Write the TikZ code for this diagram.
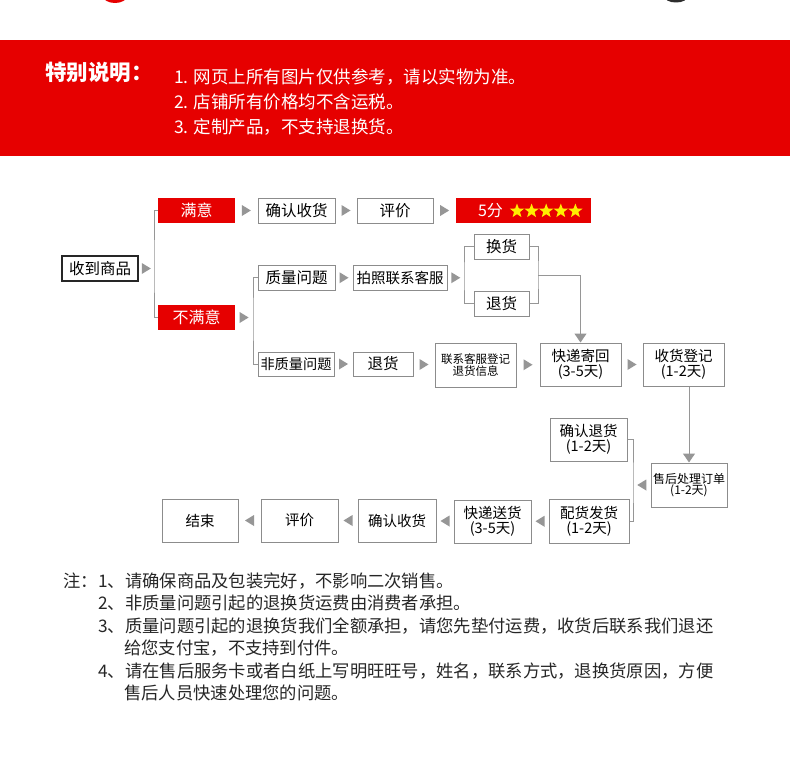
\documentclass[tikz,border=0pt]{standalone}
\usepackage{fontspec}
\setmainfont{Noto Sans CJK SC}
\usetikzlibrary{calc,arrows.meta,shapes.geometric}
\definecolor{bandred}{RGB}{230,0,0}
\definecolor{boxgray}{RGB}{140,140,140}
\definecolor{arrowgray}{RGB}{150,150,150}
\definecolor{lingray}{RGB}{150,150,150}
\definecolor{staryellow}{RGB}{255,238,0}
\definecolor{darkbit}{RGB}{45,45,45}
\newcommand\fs[1]{\fontsize{#1pt}{#1pt}\selectfont}
\newcommand\tright[2]{\path ($(#1)!0.5!(#2)$) coordinate (tc);
  \fill[arrowgray] ($(tc)+(-4.5,-5.5)$) -- ($(tc)+(4.5,0)$) -- ($(tc)+(-4.5,5.5)$) -- cycle;}
\newcommand\tleft[2]{\path ($(#1)!0.5!(#2)$) coordinate (tc);
  \fill[arrowgray] ($(tc)+(4.5,-5.5)$) -- ($(tc)+(-4.5,0)$) -- ($(tc)+(4.5,5.5)$) -- cycle;}
\begin{document}
\begin{tikzpicture}[x=1pt,y=-1pt,
  box/.style={draw=boxgray, line width=1pt, fill=white, inner sep=0pt, align=center, font=\fs{15.5}, minimum height=25pt},
  tallbox/.style={box, minimum height=43pt, font=\fontsize{14.5pt}{15pt}\selectfont},
  smallbox/.style={box, minimum height=44pt, font=\fontsize{11.5pt}{11.5pt}\selectfont},
  redbox/.style={fill=bandred, inner sep=0pt, text=white, font=\fs{16}, minimum height=25pt},
  conn/.style={draw=lingray, line width=1pt},
  downarr/.style={conn, -{Triangle[width=12pt,length=9pt]}},
  headtxt/.style={anchor=west, text=white, inner sep=0pt, font=\fs{17.5}},
  notetxt/.style={anchor=west, inner sep=0pt, font=\fs{17.3}, text=black!85},
  staricon/.style={star, star points=5, star point ratio=2.4, fill=staryellow, inner sep=0pt, minimum size=15pt}
]
\useasboundingbox (0,0) rectangle (790,760);
\fill[white] (0,0) rectangle (790,760);
\begin{scope}
\clip (0,0) rectangle (790,760);
\fill[bandred] (115,-4) ellipse [x radius=12, y radius=7];
\fill[darkbit] (676,-4) ellipse [x radius=12, y radius=6.5];
\end{scope}
% header band
\fill[bandred] (0,40) rectangle (790,156);
\node[anchor=west, text=white, inner sep=0pt, font=\fs{21.5}\bfseries] (title) at (45,72) {特别说明：};
\node[headtxt] (h1) at (174,77) {1. 网页上所有图片仅供参考，请以实物为准。};
\node[headtxt] (h2) at (174,102) {2. 店铺所有价格均不含运税。};
\node[headtxt] (h3) at (174,127) {3. 定制产品，不支持退换货。};

% flow nodes
\node[box, draw=black!85, line width=1.2pt, minimum width=76pt] (recv) at (100,268.5) {收到商品};
\node[redbox, minimum width=77pt] (sat) at (196.5,210.5) {满意};
\node[box, minimum width=77pt] (conf1) at (296.5,210.5) {确认收货};
\node[box, minimum width=76pt] (eval1) at (395,210.5) {评价};
\node[redbox, minimum width=135pt] (score) at (523.5,210.5) {};
\node[text=white, inner sep=0pt, font=\fs{16}] (five) at (490.5,211) {5分};
\foreach \i in {0,...,4} \node[staricon] (st\i) at (517+14.6*\i,211) {};
\node[redbox, minimum width=77pt] (unsat) at (196.5,317.5) {不满意};
\node[box, minimum width=77pt] (qual) at (296.5,277.5) {质量问题};
\node[box, minimum width=94pt, font=\fs{14.5}] (photo) at (400,278) {拍照联系客服};
\node[box, minimum width=55pt] (exch) at (501.5,246.5) {换货};
\node[box, minimum width=55pt] (ret1) at (501.5,303.5) {退货};
\node[box, minimum width=76pt, minimum height=24pt, font=\fs{14.2}] (nonq) at (296,364) {非质量问题};
\node[box, minimum width=60pt, minimum height=24pt] (ret2) at (383,364) {退货};
\node[smallbox, minimum width=81pt] (contact) at (475.5,365) {联系客服登记\\退货信息};
\node[tallbox, minimum width=81pt] (shipback) at (580.5,364.5) {快递寄回\\(3-5天)};
\node[tallbox, minimum width=81pt] (recvreg) at (683.5,364.5) {收货登记\\(1-2天)};
\node[smallbox, minimum width=76pt, font=\fontsize{12pt}{11.5pt}\selectfont] (after) at (689,485) {售后处理订单\\(1-2天)};
\node[tallbox, minimum width=77pt] (confret) at (588.5,439.5) {确认退货\\(1-2天)};
\node[tallbox, minimum width=80pt, minimum height=44pt] (dist) at (589,521) {配货发货\\(1-2天)};
\node[tallbox, minimum width=77pt] (sendd) at (492.5,521.5) {快递送货\\(3-5天)};
\node[box, minimum width=78pt, minimum height=43pt, font=\fs{14.5}] (conf2) at (397,520.5) {确认收货};
\node[box, minimum width=77pt, minimum height=43pt, font=\fs{14.5}] (eval2) at (299.5,520.5) {评价};
\node[box, minimum width=76pt, minimum height=43pt, font=\fs{14.5}] (fin) at (200,520.5) {结束};

% bracket joints
\coordinate (b1) at (154,268.5);
\coordinate (b2) at (253,317.5);
\coordinate (b3) at (464,277.5);
\coordinate (b4) at (538,275);
\coordinate (b5) at (633,485);

\draw[conn] (sat.west) -| (b1) |- (unsat.west);
\draw[conn] (qual.west) -| (b2) |- (nonq.west);
\draw[conn] (exch.west) -| (b3) |- (ret1.west);
\draw[conn] (exch.east) -| (b4) |- (ret1.east);
\draw[downarr] (b4) -| (shipback.north);
\draw[downarr] (after.north |- recvreg.south) -- (after.north);
\draw[conn] (confret.east) -| (b5) |- (dist.east);

% triangle arrows
\tright{recv.east}{b1}
\tright{sat.east}{conf1.west}
\tright{conf1.east}{eval1.west}
\tright{eval1.east}{score.west}
\tright{unsat.east}{b2}
\tright{qual.east}{photo.west}
\tright{photo.east}{b3}
\tright{nonq.east}{ret2.west}
\tright{ret2.east}{contact.west}
\tright{contact.east}{shipback.west}
\tright{shipback.east}{recvreg.west}
\tleft{after.west}{b5}
\tleft{dist.west}{sendd.east}
\tleft{sendd.west}{conf2.east}
\tleft{conf2.west}{eval2.east}
\tleft{eval2.west}{fin.east}

% notes
\node[notetxt] (n0) at (63,581) {注：};
\node[notetxt] (n1) at (98,581) {1、请确保商品及包装完好，不影响二次销售。};
\node[notetxt] (n2) at (98,603) {2、非质量问题引起的退换货运费由消费者承担。};
\node[notetxt] (n3) at (98,626) {3、质量问题引起的退换货我们全额承担，请您先垫付运费，收货后联系我们退还};
\node[notetxt] (n3b) at (124,648) {给您支付宝，不支持到付件。};
\node[notetxt] (n4) at (98,671) {4、请在售后服务卡或者白纸上写明旺旺号，姓名，联系方式，退换货原因，方便};
\node[notetxt] (n4b) at (124,693) {售后人员快速处理您的问题。};
\end{tikzpicture}
\end{document}
